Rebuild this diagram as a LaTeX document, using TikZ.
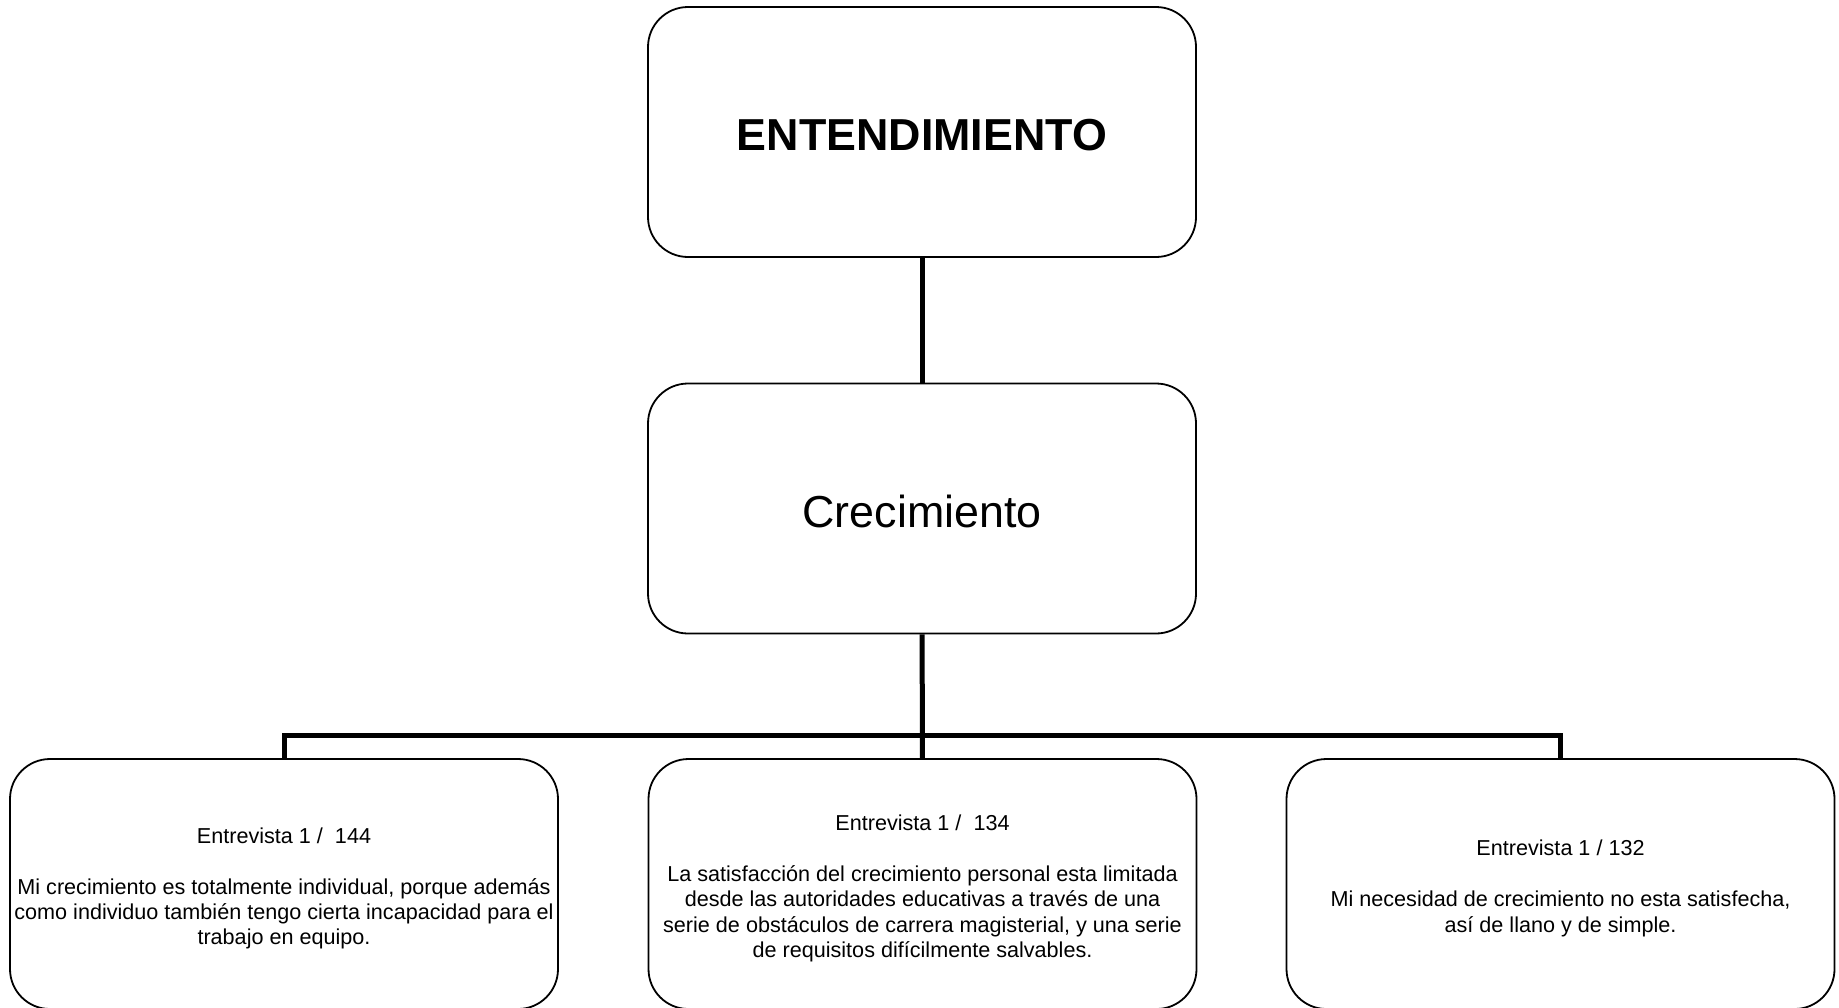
\documentclass[tikz,border=0pt]{standalone}
\usepackage{fontspec}
\setmainfont{Liberation Sans}
\usetikzlibrary{positioning}
\newcommand{\topstr}{\rule{0pt}{12.5pt}}
\newcommand{\botstr}{\rule[-2.5pt]{0pt}{2.5pt}}

\begin{document}
\begin{tikzpicture}[x=0.5pt,y=-0.5pt,
  box/.style={draw, line width=0.9pt, rounded corners=20pt, minimum width=274pt,
    minimum height=125pt, inner sep=0pt, align=center},
  big/.style={font=\fontsize{22.4}{26}\selectfont, text height=18.5pt, text depth=0pt},
  small/.style={font=\fontsize{10.8}{12.7}\selectfont},
  link/.style={line width=2.5pt}]
\useasboundingbox (0,0) rectangle (1839,1007);
%main boxes
\node[box,big] (ent) at (922,132) {\bfseries ENTENDIMIENTO};
\node[box,big] (crec) at (922,508.5) {Crecimiento};
%interview boxes
\node[box,small] (e144) at (284,884) {\topstr Entrevista 1 /\ \ 144\\[12.7pt]
  Mi crecimiento es totalmente individual, porque además\\
  como individuo también tengo cierta incapacidad para el\\
  trabajo en equipo.\botstr};
\node[box,small] (e134) at (922.5,884) {\topstr Entrevista 1 /\ \ 134\\[12.7pt]
  La satisfacción del crecimiento personal esta limitada\\
  desde las autoridades educativas a través de una\\
  serie de obstáculos de carrera magisterial, y una serie\\
  de requisitos difícilmente salvables.\botstr};
\node[box,small] (e132) at (1560.5,884) {\topstr Entrevista 1 / 132\\[12.7pt]
  Mi necesidad de crecimiento no esta satisfecha,\\
  así de llano y de simple.\botstr};
%connectors
\coordinate (bar) at (922,735);
\draw[link] (ent) -- (crec);
\draw[link] (crec) -- (e134);
\draw[link] (e144.north) |- (bar) -| (e132.north);
\end{tikzpicture}
\end{document}
